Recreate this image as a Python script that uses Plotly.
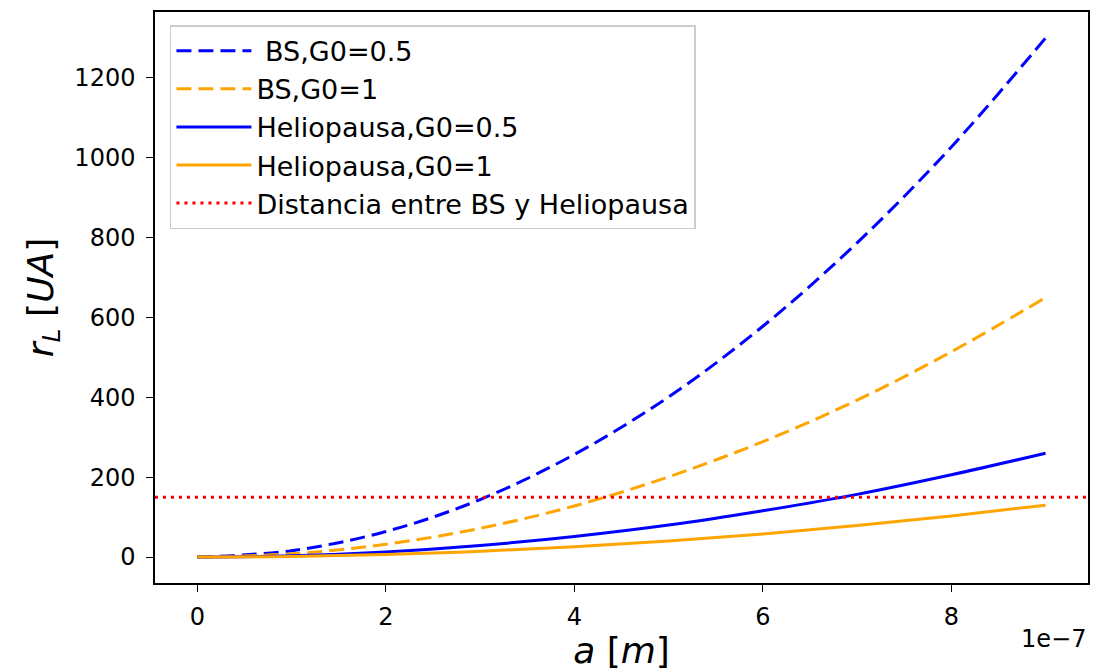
import plotly.graph_objects as go

a_vals = [0, 1e-7, 2e-7, 3e-7, 4e-7, 5e-7, 6e-7, 7e-7, 8e-7, 9e-7]
bs_g05 = [0, 16, 64, 144, 257, 401, 578, 787, 1027, 1300]
bs_g1 = [0, 8, 32, 72, 128, 201, 289, 393, 514, 650]
helio_g05 = [0, 3.2, 12.8, 28.9, 51.4, 80, 116, 157, 206, 260]
helio_g1 = [0, 1.6, 6.4, 14.4, 25.7, 40, 58, 79, 103, 130]
dist_bs_helio = 150

x_tickvals = [0, 2e-7, 4e-7, 6e-7, 8e-7]
x_ticktext = ["0", "2", "4", "6", "8"]
y_tickvals = [0, 200, 400, 600, 800, 1000, 1200]

BLUE = "#0000ff"
ORANGE = "#ffa500"
RED = "#ff0000"
LW = 3
DASH = "15px,7px"
DOT = "3px,5px"

fig = go.Figure()
fig.add_trace(go.Scatter(x=a_vals, y=bs_g05, mode="lines", name=" BS,G0=0.5",
                         line=dict(color=BLUE, width=LW, dash=DASH, shape="spline")))
fig.add_trace(go.Scatter(x=a_vals, y=bs_g1, mode="lines", name="BS,G0=1",
                         line=dict(color=ORANGE, width=LW, dash=DASH, shape="spline")))
fig.add_trace(go.Scatter(x=a_vals, y=helio_g05, mode="lines", name="Heliopausa,G0=0.5",
                         line=dict(color=BLUE, width=LW, shape="spline")))
fig.add_trace(go.Scatter(x=a_vals, y=helio_g1, mode="lines", name="Heliopausa,G0=1",
                         line=dict(color=ORANGE, width=LW, shape="spline")))
fig.add_hline(y=dist_bs_helio, line=dict(color=RED, width=LW, dash=DOT))
fig.add_trace(go.Scatter(x=[None], y=[None], mode="lines", name="Distancia entre BS y Heliopausa",
                         line=dict(color=RED, width=LW, dash=DOT)))

font_family = "DejaVu Sans"
fig.update_layout(
    width=1095, height=671,
    margin=dict(l=155, r=5, t=12, b=88),
    paper_bgcolor="white", plot_bgcolor="white",
    font=dict(family=font_family, color="black", size=24),
    showlegend=True,
    legend=dict(x=0.016, y=0.977, xanchor="left", yanchor="top",
                bgcolor="rgba(255,255,255,0.8)", bordercolor="#cccccc", borderwidth=1.5,
                font=dict(size=27, family=font_family), itemwidth=75, tracegroupgap=0),
    annotations=[dict(text="1e\u22127", xref="paper", yref="paper", x=1.0, y=-0.07,
                      xanchor="right", yanchor="top", showarrow=False,
                      font=dict(size=24, family=font_family))],
)
fig.update_xaxes(range=[-0.45e-7, 9.45e-7], tickvals=x_tickvals, ticktext=x_ticktext,
                 showgrid=False, zeroline=False, showline=True, linecolor="black", linewidth=1.5,
                 mirror=True, ticks="outside", ticklen=7, tickwidth=1.2, tickcolor="black",
                 tickfont=dict(size=24), ticklabelstandoff=4,
                 title=dict(text="<i>a</i> [<i>m</i>]", font=dict(size=36), standoff=0))
fig.update_yaxes(range=[-65, 1365], tickvals=y_tickvals,
                 showgrid=False, zeroline=False, showline=True, linecolor="black", linewidth=1.5,
                 mirror=True, ticks="outside", ticklen=7, tickwidth=1.2, tickcolor="black",
                 tickfont=dict(size=24), ticklabelstandoff=6,
                 title=dict(text="<i>r</i><sub><i>L</i></sub> [<i>UA</i>]", font=dict(size=36), standoff=10))

fig.write_html("out.html")
